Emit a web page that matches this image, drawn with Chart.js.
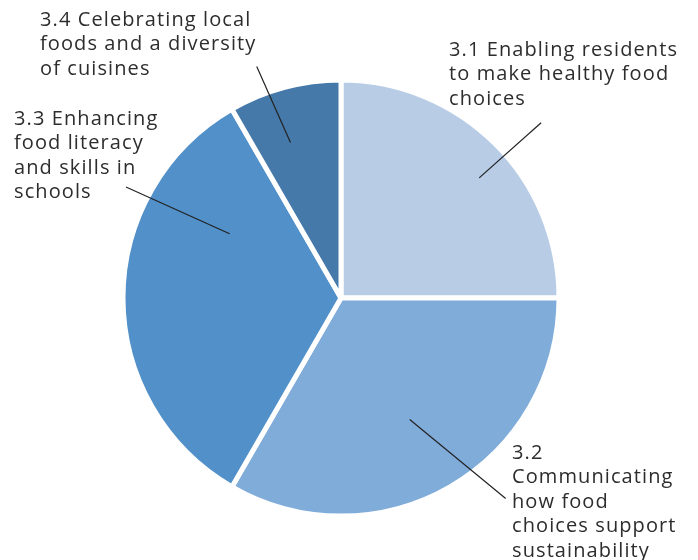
<html>
<head>
    <script src="https://cdn.jsdelivr.net/npm/chart.js@4.4.1/dist/chart.umd.min.js"></script>
    <style>
        html, body { margin: 0; padding: 0; background: #fff; }
        #chartcontainer { position: relative; width: 698px; height: 560px; }
    </style>
</head>
<body>
    <div id="chartcontainer">
        <canvas id="canvas"></canvas>
    </div>
    <script>
        // number of actions per strategy (3 / 4 / 4 / 1 of 12)
        var categories = [
            '3.1 Enabling residents to make healthy food choices',
            '3.2 Communicating how food choices support sustainability',
            '3.3 Enhancing food literacy and skills in schools',
            '3.4 Celebrating local foods and a diversity of cuisines'
        ];
        var values = [3, 4, 4, 1];
        var sliceColors = ['#b8cce6', '#80acda', '#5190c8', '#4579a9'];

        // label text as broken on the picture
        var labelLines = [
            ['3.1 Enabling residents', 'to make healthy food', 'choices'],
            ['3.2', 'Communicating', 'how food', 'choices support', 'sustainability'],
            ['3.3 Enhancing', 'food literacy', 'and skills in', 'schools'],
            ['3.4 Celebrating local', 'foods and a diversity', 'of cuisines']
        ];

        // label placement and leader lines (angle offset from slice middle in degrees, radius factor)
        var labelPos = [
            { x: 449, y: 50, inA: 4, inR: 0.84, outA: 3.8, outR: 1.22 },
            { x: 512, y: 453, inA: 0.5, inR: 0.64, outA: -9.4, outR: 1.19 },
            { x: 14, y: 119, inA: 30, inR: 0.59, outA: 27.3, outR: 1.11 },
            { x: 40, y: 20, inA: -3, inR: 0.75, outA: -5, outR: 1.13 }
        ];

        var leaderPlugin = {
            id: 'leaders',
            afterDraw: function (chart) {
                var c = chart.ctx;
                var arcs = chart.getDatasetMeta(0).data;
                c.save();
                c.strokeStyle = '#222';
                c.lineWidth = 1.2;
                arcs.forEach(function (arc, i) {
                    var p = labelPos[i];
                    var mid = (arc.startAngle + arc.endAngle) / 2;
                    var r = arc.outerRadius;
                    var a1 = mid + p.inA * Math.PI / 180;
                    var a2 = mid + p.outA * Math.PI / 180;
                    c.beginPath();
                    c.moveTo(arc.x + Math.cos(a1) * r * p.inR, arc.y + Math.sin(a1) * r * p.inR);
                    c.lineTo(arc.x + Math.cos(a2) * r * p.outR, arc.y + Math.sin(a2) * r * p.outR);
                    c.stroke();
                });
                c.fillStyle = '#2d2d2d';
                c.font = '20px "Open Sans"';
                c.letterSpacing = '1.1px';
                c.textBaseline = 'middle';
                c.textAlign = 'left';
                labelLines.forEach(function (lines, i) {
                    lines.forEach(function (t, k) {
                        c.fillText(t, labelPos[i].x, labelPos[i].y + k * 24.5);
                    });
                });
                c.restore();
            }
        };

        var ctx = document.getElementById('canvas').getContext('2d');

        var chart = new Chart(ctx, {
            type: 'pie',
            data: {
                labels: categories,
                datasets: [{
                    data: values,
                    backgroundColor: sliceColors,
                    borderColor: '#ffffff',
                    borderWidth: 5,
                    radius: 218
                }]
            },
            options: {
                responsive: true,
                maintainAspectRatio: false,
                animation: false,
                layout: { padding: { left: 0, right: 16, top: 36, bottom: 0 } },
                plugins: {
                    legend: { display: false },
                    tooltip: { enabled: false }
                }
            },
            plugins: [leaderPlugin]
        });
    </script>
</body>
</html>
